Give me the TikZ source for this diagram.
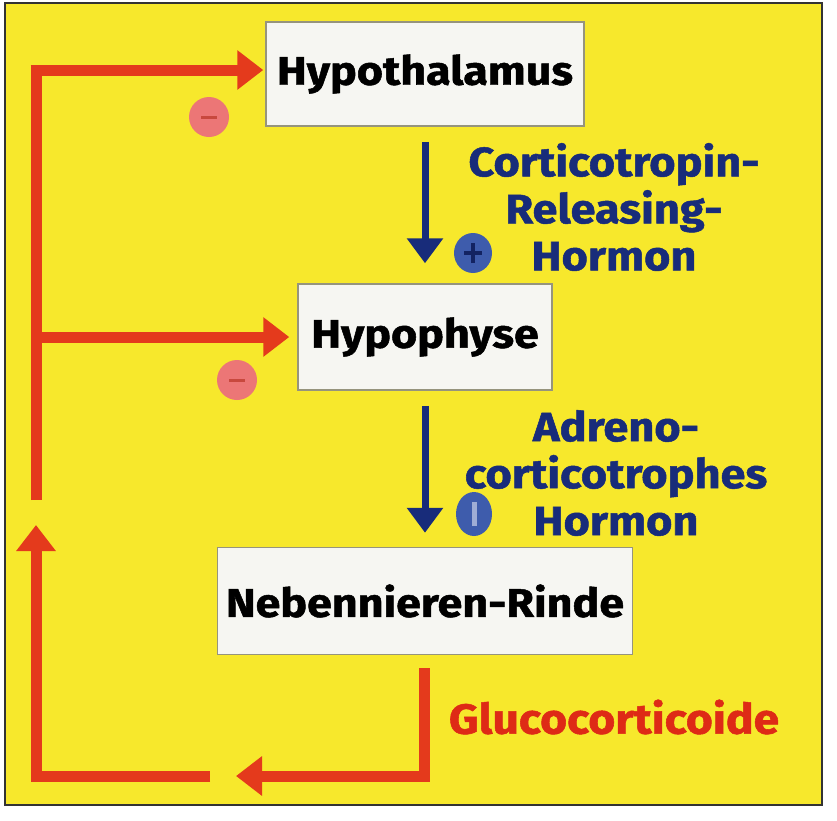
\documentclass[tikz,border=0pt]{standalone}
\usepackage{fontspec}
\setmainfont{Fira Sans}[BoldFeatures={FakeBold=1.2}]
\usetikzlibrary{arrows.meta,shapes.geometric}
\definecolor{bgyellow}{RGB}{247,232,44}
\definecolor{fbred}{RGB}{228,58,28}
\definecolor{txtred}{RGB}{222,42,22}
\definecolor{navy}{RGB}{24,44,122}
\definecolor{pinkc}{RGB}{236,118,118}
\definecolor{pinkd}{RGB}{200,72,62}
\definecolor{bluec}{RGB}{62,92,172}
\definecolor{boxfill}{RGB}{246,246,242}
\definecolor{boxline}{RGB}{150,148,125}
\tikzset{
  organ/.style={draw=boxline, line width=1.5pt, fill=boxfill, inner sep=0pt},
  organtxt/.style={inner sep=0pt, xscale=1.12, transform shape,
    font=\fontsize{40}{44}\selectfont\bfseries},
  hormtxt/.style={text=navy, align=center, inner sep=0pt, xscale=1.1, transform shape,
    font=\fontsize{41}{47}\selectfont\bfseries},
  bluearr/.style={draw=navy, line width=7pt, -{Triangle[length=25pt,width=35pt]}},
  redline/.style={draw=fbred, line width=11pt},
  redarr/.style={draw=fbred, line width=11pt, -{Triangle[length=26pt,width=38pt]}},
  minuscirc/.style={circle, fill=pinkc, minimum size=40pt, inner sep=0pt},
  pluscirc/.style={ellipse, fill=bluec, minimum width=38pt, minimum height=40pt, inner sep=0pt},
}
\begin{document}
\begin{tikzpicture}[x=1pt,y=-1pt]
\useasboundingbox (0,0) rectangle (837,820);
\fill[white] (0,0) rectangle (837,820);
\draw[fill=bgyellow, draw=black!80, line width=2pt] (5,3) rectangle (822,805);

% organ boxes
\node[organ, minimum width=318pt, minimum height=104pt] (hyp) at (425,74) {};
\node[organtxt] (hyptxt) at (hyp.center) {Hypothalamus};
\node[organ, minimum width=254pt, minimum height=106pt] (hypo) at (425,337) {};
\node[organtxt] (hypotxt) at (hypo.center) {Hypophyse};
\node[organ, minimum width=415pt, minimum height=107pt] (nnr) at (425,601) {};
\node[organtxt] (nnrtxt) at (nnr.center) {Nebennieren-Rinde};

% blue hormone arrows
\draw[bluearr, shorten <=15pt, shorten >=20pt] (hyp.south) -- (hypo.north);
\draw[bluearr, shorten <=15pt, shorten >=14pt] (hypo.south) -- (nnr.north);

% plus circles
\node[pluscirc] (plus1) at (473,253) {};
\draw[navy!80!black, line width=4pt] ([xshift=-9pt]plus1.center) -- ([xshift=9pt]plus1.center)
  ([yshift=-10pt]plus1.center) -- ([yshift=10pt]plus1.center);
\node[pluscirc, minimum width=36pt, minimum height=44pt] (plus2) at (474,514) {};
\draw[bluec!50!white, line width=5pt] ([yshift=-12pt]plus2.center) -- ([yshift=12pt]plus2.center);

% hormone labels
\node[hormtxt] (crh) at (614,207) {Corticotropin-\\Releasing-\\Hormon};
\node[hormtxt] (acth) at (616,473) {Adreno-\\corticotrophes\\Hormon};
\node[text=txtred, inner sep=0pt, xscale=1.1, transform shape,
  font=\fontsize{42}{44}\selectfont\bfseries] (gluc) at (614,717) {Glucocorticoide};

% red feedback lines
\coordinate (tl) at (36,70);
\coordinate (ml) at (36,337);
\coordinate (lb) at (36,500);
\coordinate (lup) at (36,776);
\coordinate (lbr) at (210,776);
\coordinate (rs) at (424,668);
\coordinate (rb) at (424,776);
\coordinate (rtip) at (236,776);
\coordinate (uptip) at (36,525);

\draw[redline, line cap=butt] (lb) -- (tl);
\draw[redarr] ([xshift=-5.5pt]tl) -- ([xshift=-2pt]tl -| hyp.west);
\draw[redarr] (ml) -- ([xshift=-8pt]ml -| hypo.west);
\draw[redarr] (lbr) -- (lup) -- (uptip);
\draw[redarr] (rs) -- (rb) -- (rtip);

% minus circles
\node[minuscirc] (minus1) at (209,117) {};
\draw[pinkd, line width=3pt] ([xshift=-8pt]minus1.center) -- ([xshift=8pt]minus1.center);
\node[minuscirc] (minus2) at (237,380) {};
\draw[pinkd, line width=3pt] ([xshift=-8pt]minus2.center) -- ([xshift=8pt]minus2.center);
\end{tikzpicture}
\end{document}
